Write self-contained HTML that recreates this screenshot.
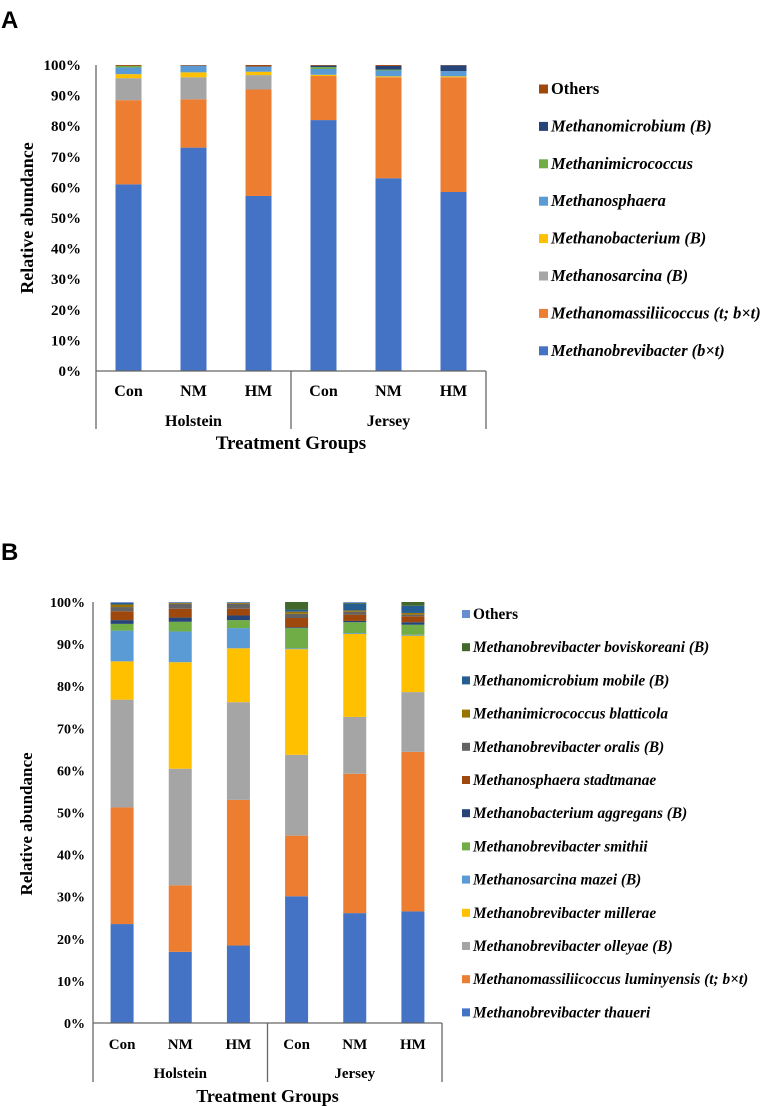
<!DOCTYPE html>
<html><head><meta charset="utf-8"><style>
html,body{margin:0;padding:0;background:#fff;}
svg{display:block;font-family:"Liberation Serif",serif;}
</style></head><body>
<svg id="fig" width="769" height="1106" viewBox="0 0 769 1106">
<text x="1" y="28" font-family="Liberation Sans, sans-serif" font-weight="bold" font-size="24">A</text>
<text x="1" y="560" font-family="Liberation Sans, sans-serif" font-weight="bold" font-size="24">B</text>
<g id="chartA"></g>
<g id="chartB"></g>
</svg>
<script>
const categories = ["Con","NM","HM","Con","NM","HM"];
const breeds = ["Holstein","Jersey"];
const tickLabels = ["0%","10%","20%","30%","40%","50%","60%","70%","80%","90%","100%"];
const tickValues = [0,10,20,30,40,50,60,70,80,90,100];

const seriesA = ["Methanobrevibacter (b×t)","Methanomassiliicoccus (t; b×t)","Methanosarcina (B)","Methanobacterium (B)","Methanosphaera","Methanimicrococcus","Methanomicrobium (B)","Others"];
const colorsA = ["#4472C4","#ED7D31","#A5A5A5","#FFC000","#5B9BD5","#70AD47","#264478","#9E480E"];
const valuesA = [
 [61,27.5,7.2,1.3,2.2,0.5,0,0.3],
 [73,15.8,7.2,1.6,2.2,0,0,0.2],
 [57.2,34.8,4.7,1.1,1.7,0,0,0.5],
 [82,14.4,0,0.4,1.9,0.6,0.5,0.2],
 [63,33,0,0.3,1.9,0.3,1.2,0.3],
 [58.5,37.5,0,0.3,1.7,0,1.9,0.1]
];

const seriesB = ["Methanobrevibacter thaueri","Methanomassiliicoccus luminyensis (t; b×t)","Methanobrevibacter olleyae (B)","Methanobrevibacter millerae","Methanosarcina mazei (B)","Methanobrevibacter smithii","Methanobacterium aggregans (B)","Methanosphaera stadtmanae","Methanobrevibacter oralis (B)","Methanimicrococcus blatticola","Methanomicrobium mobile (B)","Methanobrevibacter boviskoreani (B)","Others"];
const colorsB = ["#4472C4","#ED7D31","#A5A5A5","#FFC000","#5B9BD5","#70AD47","#264478","#9E480E","#636363","#997300","#255E91","#43682B","#698ED0"];
const valuesB = [
 [23.5,27.7,25.6,9.1,7.3,1.6,0.9,2.1,1.0,0.6,0.4,0,0.2],
 [16.9,15.8,27.7,25.3,7.3,2.3,1.0,2.1,1.2,0.2,0.1,0,0.1],
 [18.4,34.6,23.2,12.8,4.8,1.9,1.1,1.6,1.2,0.2,0.1,0,0.1],
 [30.1,14.4,19.2,25.1,0.2,4.8,0.2,2.2,1.0,0.5,0.5,1.8,0],
 [26.1,33.1,13.5,19.7,0.2,2.6,0.3,1.5,0.7,0.3,1.6,0.2,0.2],
 [26.5,37.9,14.2,13.4,0.2,2.4,0.6,1.4,0.4,0.4,1.7,0.9,0]
];

const NS="http://www.w3.org/2000/svg";
function mk(parent,tag,attrs,text){
  const e=document.createElementNS(NS,tag);
  for(const k in attrs) e.setAttribute(k,attrs[k]);
  if(text!==undefined) e.textContent=text;
  parent.appendChild(e); return e;
}

function drawChart(g,cfg,series,colors,values){
  const y=v=>cfg.base-(cfg.base-cfg.top)*v/100;
  const step=(cfg.right-cfg.left)/categories.length;
  const x=i=>cfg.left+step*(i+0.5);
  tickValues.forEach((t,i)=>{
    const tl=mk(g,"text",{x:cfg.tickX,y:y(t)+5,"text-anchor":"end","font-weight":"bold","font-size":cfg.fs});
    tl.textContent=tickLabels[i];
    
    
  });
  values.forEach((vals,i)=>{
    let cum=0;
    vals.forEach((v,s)=>{
      if(v<=0){return;}
      const r=mk(g,"rect",{x:x(i)-cfg.bw/2,y:y(cum+v),width:cfg.bw,height:y(cum)-y(cum+v),fill:colors[s]});
      
      
      cum+=v;
    });
    const cl=mk(g,"text",{x:x(i),y:cfg.catY,"text-anchor":"middle","font-weight":"bold","font-size":cfg.fs+1},categories[i]);
    
    
  });
  const ax=mk(g,"line",{x1:cfg.left,y1:cfg.top,x2:cfg.left,y2:cfg.vEnd,stroke:"#666","stroke-width":1.3});
  
  
  const bx=mk(g,"line",{x1:cfg.left,y1:cfg.base,x2:cfg.right,y2:cfg.base,stroke:"#666","stroke-width":1.3});
  
  
  const mid=cfg.left+step*3;
  [mid,cfg.right].forEach(xx=>{
    const d=mk(g,"line",{x1:xx,y1:cfg.base,x2:xx,y2:cfg.vEnd,stroke:"#666","stroke-width":1.3});
    
    
  });
  breeds.forEach((b,i)=>{
    const t=mk(g,"text",{x:cfg.left+step*(1.5+3*i),y:cfg.breedY,"text-anchor":"middle","font-weight":"bold","font-size":cfg.fs+1},b);
    
    
  });
  const xt=mk(g,"text",{x:mid,y:cfg.titleY,"text-anchor":"middle","font-weight":"bold","font-size":cfg.fs+4},"Treatment Groups");
  
  
  const yt=mk(g,"text",{x:0,y:0,"text-anchor":"middle","font-weight":"bold","font-size":cfg.fs+3,transform:`translate(${cfg.yTitleX},${cfg.yTitleY}) rotate(-90)`},"Relative abundance");
  
  
  for(let k=0;k<series.length;k++){
    const s=series.length-1-k;
    const ly=cfg.legY+k*cfg.legStep;
    const m=mk(g,"rect",{x:cfg.legX,y:ly-cfg.ms/2-1,width:cfg.ms,height:cfg.ms,fill:colors[s]});
    
    
    const isOther=series[s]==="Others";
    const lt=mk(g,"text",{x:cfg.legX+cfg.ms+3,y:ly+4,"font-weight":"bold","font-style":isOther?"normal":"italic","font-size":cfg.legFs},series[s]);
    
    
  }
}

drawChart(document.getElementById("chartA"),
 {left:96,right:486,top:65,base:371,vEnd:429,bw:26,tickX:81,fs:15,catY:396,breedY:426,titleY:449,yTitleX:33,yTitleY:218,
  legX:539,legY:90,legStep:37.4,ms:9,legFs:16.4},seriesA,colorsA,valuesA);
drawChart(document.getElementById("chartB"),
 {left:93,right:442,top:602,base:1023,vEnd:1082,bw:23,tickX:85,fs:14,catY:1049,breedY:1078,titleY:1102,yTitleX:32,yTitleY:824,
  legX:462,legY:615,legStep:33.2,ms:8,legFs:15.3},seriesB,colorsB,valuesB);
</script>
</body></html>
